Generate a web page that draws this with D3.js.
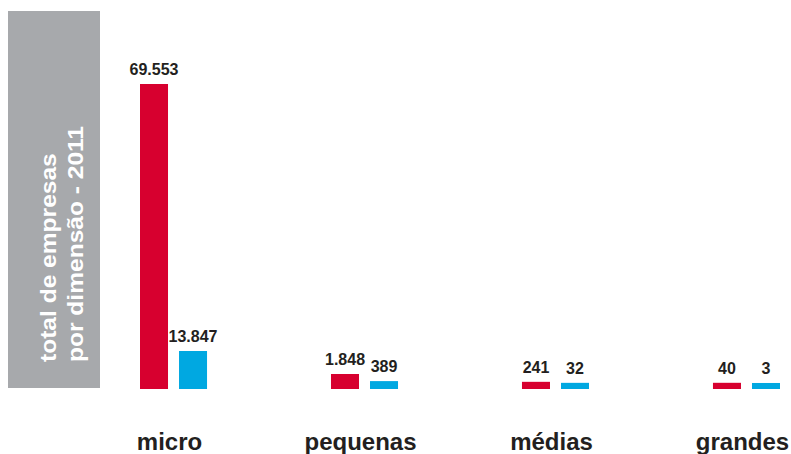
<!DOCTYPE html>
<html>
<head>
<meta charset="utf-8">
<script src="https://cdn.jsdelivr.net/npm/d3@7"></script>
<style>
  body { margin: 0; background: #fff; }
  text { font-family: "Liberation Sans", Arial, sans-serif; font-weight: bold; }
</style>
</head>
<body>
<div class="chart"></div>
<script>
// ======= total de empresas por dimensão - 2011 =======

const categories = ['micro', 'pequenas', 'médias', 'grandes']
const series = ['a', 'b']
const seriesA = [69553, 1848, 241, 40]
const seriesB = [13847, 389, 32, 3]
const titleLines = ['total de empresas', 'por dimensão - 2011']

const colors = { a: '#d7002f', b: '#00a8e1' }
const textColor = '#231f20'

const width = 791
const height = 454
const baseline = 389

const svg = d3.select('.chart')
  .append('svg')
    .attr('width', width)
    .attr('height', height)

// grey title box on the left
svg.append('rect')
  .attr('x', 8)
  .attr('y', 11)
  .attr('width', 92)
  .attr('height', 377)
  .style('fill', '#a7a9ac')

titleLines.forEach((line, i) => {
  svg.append('text')
    .attr('transform', `translate(${56 + i * 27}, 362) rotate(-90) scale(1.17, 1.03)`)
    .style('fill', '#fff')
    .style('font-size', '21px')
    .text(line)
})

// groups are spaced evenly (best fit to the original's slightly uneven spacing)
const x0 = d3.scaleBand()
  .domain(categories)
  .range([140, 780])
  .paddingInner(0.649)

const x1 = d3.scaleBand()
  .domain(series)
  .range([0, x0.bandwidth()])
  .paddingInner(0.282)

// the original bars are not proportional: small values get a minimum height
const y = d3.scaleLinear()
  .domain([0, 1848, 13847, 69553])
  .range([baseline - 6, baseline - 15, baseline - 38, baseline - 305])

const rows = categories.map((c, i) => ({ cat: c, a: seriesA[i], b: seriesB[i] }))
const fmt = d3.formatLocale({ decimal: ',', thousands: '.', grouping: [3], currency: ['', ''] }).format(',')

const groups = svg.selectAll('g.group')
  .data(rows)
  .join('g')
    .attr('class', 'group')
    .attr('transform', d => `translate(${x0(d.cat)}, 0)`)

const cells = groups.selectAll('g.cell')
  .data(d => series.map(s => ({ key: s, value: d[s] })))
  .join('g')
    .attr('class', 'cell')

cells.append('rect')
  .attr('x', d => x1(d.key))
  .attr('y', d => y(d.value))
  .attr('width', x1.bandwidth())
  .attr('height', d => baseline - y(d.value))
  .style('fill', d => colors[d.key])

cells.append('text')
  .attr('x', d => x1(d.key) + x1.bandwidth() / 2)
  .attr('y', d => y(d.value) - 9)
  .attr('text-anchor', 'middle')
  .style('font-size', '16px')
  .style('fill', textColor)
  .text(d => fmt(d.value))

// category labels under the groups
svg.selectAll('text.cat')
  .data(categories)
  .join('text')
    .attr('class', 'cat')
    .attr('x', d => x0(d) + x0.bandwidth() / 2 - 4)
    .attr('y', 450)
    .attr('text-anchor', 'middle')
    .style('font-size', '24px')
    .style('fill', textColor)
    .text(d => d)
</script>
</body>
</html>
